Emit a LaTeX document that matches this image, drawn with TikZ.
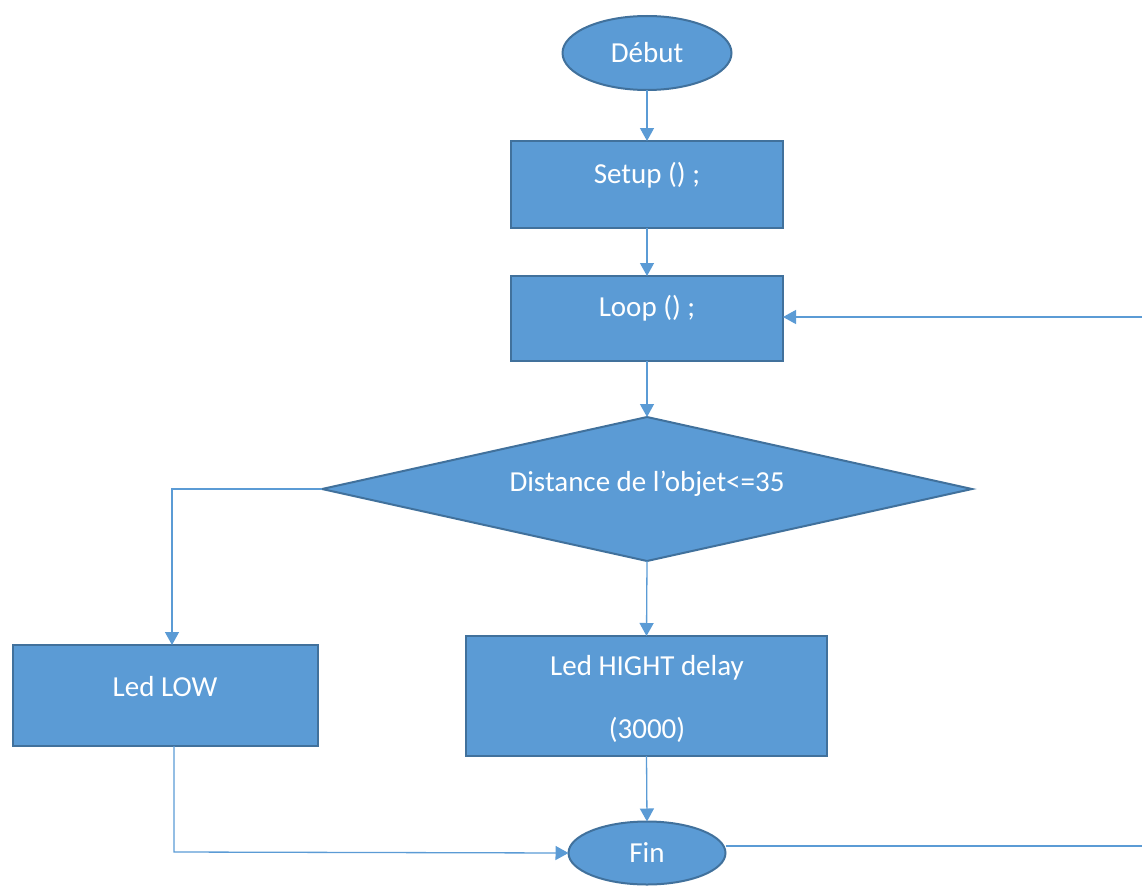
\documentclass[tikz,border=0pt]{standalone}
\usepackage{fontspec}
\setmainfont{Carlito}
\usetikzlibrary{shapes.geometric,arrows.meta}
\definecolor{boxfill}{HTML}{5B9BD5}
\definecolor{boxedge}{HTML}{41719C}
\definecolor{wire}{HTML}{5B9BD5}
\begin{document}
\begin{tikzpicture}[x=1pt,y=-1pt,
  labelfont/.style={font=\fontsize{29}{34}\selectfont,text=white},
  shapebase/.style={fill=boxfill,draw=boxedge,line width=2pt,labelfont,inner sep=0pt,outer sep=0pt},
  stepbox/.style={shapebase,rectangle,anchor=north west},
  term/.style={shapebase,ellipse},
  test/.style={shapebase,diamond},
  wireline/.style={draw=wire,line width=1.3pt},
  arrowline/.style={wireline,-{Triangle[width=14pt,length=13pt]}}]
\useasboundingbox (0,0) rectangle (1142,888);
% terminals
\node[term,minimum width=169pt,minimum height=74pt] (debut) at (647,53) {Début};
\node[term,minimum width=157pt,minimum height=63pt] (fin) at (647,853) {Fin};
% process boxes
\node[stepbox,minimum width=272pt,minimum height=87pt] (setup) at (511,141) {};
\node[labelfont] at (647,175) {Setup () ;};
\node[stepbox,minimum width=272pt,minimum height=85pt] (loop) at (511,276) {};
\node[labelfont] at (647,308) {Loop () ;};
\node[stepbox,minimum width=305pt,minimum height=101pt] (low) at (13,645) {};
\node[labelfont] at (165,687) {Led LOW};
\node[stepbox,minimum width=361pt,minimum height=120pt] (high) at (466,636) {};
\node[labelfont] at (647,668) {Led HIGHT delay};
\node[labelfont] at (647,730) {(3000)};
% decision
\node[test,minimum width=650pt,minimum height=144pt,aspect=4.5] (dist) at (647,489) {};
\node[labelfont] at (647,484) {Distance de l’objet<=35};
% free ends of the loop-back and exit lines
\coordinate (backin) at (1142,317);
\coordinate (backout) at (1142,846);
\coordinate (lcorner) at (172,489);
\coordinate (bcorner) at (174,852);
% connectors
\draw[arrowline] (debut.south) -- (setup.north);
\draw[arrowline] (setup.south) -- (loop.north);
\draw[arrowline] (loop.south) -- (dist.north);
\draw[arrowline] (dist.south) -- (high.north);
\draw[arrowline] (high.south) -- (fin.north);
\draw[arrowline] (dist.west) -- (lcorner) -- (low.north -| lcorner);
\draw[arrowline] (low.south -| bcorner) -- (bcorner) -- (fin.west);
\draw[wireline] (fin.east |- backout) -- (backout);
\draw[arrowline] (backin) -- (loop.east |- backin);
\end{tikzpicture}
\end{document}
